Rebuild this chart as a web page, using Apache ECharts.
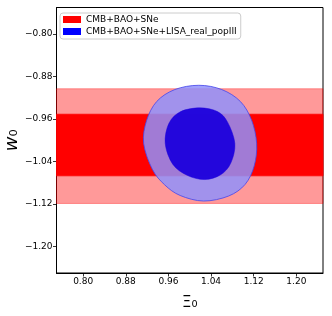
<!DOCTYPE html>
<html>
<head>
<meta charset="utf-8">
<script src="https://cdn.jsdelivr.net/npm/echarts@6/dist/echarts.min.js"></script>
<style>
html,body{margin:0;padding:0;background:#fff;}
#chart{width:332px;height:316px;}
</style>
</head>
<body>
<div id="chart"></div>
<script>
// ---- data ----
var xTicks = [0.80, 0.88, 0.96, 1.04, 1.12, 1.20];
var yTicks = [-0.80, -0.88, -0.96, -1.04, -1.12, -1.20];
var xRange = [0.75, 1.25];
var yRange = [-1.25, -0.75];

// CMB+BAO+SNe constraint on w0 (bands spanning all Xi0): [low, high]
var bandOuter = [-1.119, -0.903];   // 95%
var bandInner = [-1.067, -0.951];   // 68%

// CMB+BAO+SNe+LISA_real_popIII contours [Xi0, w0]
var lisaOuter = [
  [1.017, -0.8965], [1.060, -0.9045], [1.095, -0.927], [1.116, -0.962],
  [1.1255, -1.006], [1.121, -1.048], [1.104, -1.083], [1.073, -1.105],
  [1.026, -1.1145], [0.982, -1.104], [0.953, -1.084], [0.930, -1.055],
  [0.9135, -1.006], [0.919, -0.963], [0.938, -0.927], [0.972, -0.9045]
];
var lisaInner = [
  [1.019, -0.939], [1.052, -0.946], [1.071, -0.966], [1.0846, -1.006],
  [1.077, -1.043], [1.058, -1.065], [1.028, -1.074], [0.995, -1.066],
  [0.968, -1.045], [0.954, -1.006], [0.961, -0.968], [0.983, -0.946]
];
var seriesNames = ['CMB+BAO+SNe', 'CMB+BAO+SNe+LISA_real_popIII'];

// ---- chart ----
var FONT = 'DejaVu Sans';
function fmt(v){ return v.toFixed(2).replace('-', '\u2212'); }

// closed smooth outline through screen points (Catmull-Rom as cubic Bezier)
function smoothClosedPath(p){
  var n = p.length, d = 'M' + p[0][0] + ' ' + p[0][1];
  for (var i = 0; i < n; i++){
    var p0 = p[(i - 1 + n) % n], p1 = p[i], p2 = p[(i + 1) % n], p3 = p[(i + 2) % n];
    var c1x = p1[0] + (p2[0] - p0[0]) / 6, c1y = p1[1] + (p2[1] - p0[1]) / 6;
    var c2x = p2[0] - (p3[0] - p1[0]) / 6, c2y = p2[1] - (p3[1] - p1[1]) / 6;
    d += 'C' + c1x + ' ' + c1y + ' ' + c2x + ' ' + c2y + ' ' + p2[0] + ' ' + p2[1];
  }
  return d + 'Z';
}

var chart = echarts.init(document.getElementById('chart'), null, {renderer:'canvas'});

var bandStyles = [
  {fill:'rgba(255,0,0,0.4)', stroke:'rgba(255,0,0,0.45)'},
  {fill:'rgb(255,0,0)', stroke:'rgb(255,0,0)'}
];
var contourStyles = [
  {fill:'rgba(145,145,250,0.85)', stroke:'rgba(70,70,235,0.9)', lw:0.9},
  {fill:'rgba(28,0,220,0.95)', stroke:'rgba(28,0,220,0.95)', lw:0.5}
];
var contours = [lisaOuter, lisaInner];

var option = {
  animation:false,
  backgroundColor:'#fff',
  grid:{left:56.5, right:9, top:7.5, bottom:43, containLabel:false, outerBoundsMode:'none',
        show:true, borderColor:'#000', borderWidth:1, backgroundColor:'transparent'},
  legend:{
    left:60, top:13, orient:'vertical',
    itemWidth:18, itemHeight:7, itemGap:3,
    padding:[2,4,3,3],
    borderColor:'#cccccc', borderWidth:1, borderRadius:3,
    backgroundColor:'rgba(255,255,255,0.85)',
    textStyle:{fontFamily:FONT, fontSize:9, color:'#000'},
    data:[
      {name:seriesNames[0], icon:'rect', itemStyle:{color:'#ff0000'}},
      {name:seriesNames[1], icon:'rect', itemStyle:{color:'#0000ff'}}
    ]
  },
  xAxis:{
    type:'value', min:xRange[0], max:xRange[1],
    name:'\u039e\u2080', nameLocation:'middle', nameGap:23, nameMoveOverlap:false,
    nameTextStyle:{fontFamily:FONT, fontSize:15, color:'#000'},
    axisLine:{show:true, onZero:false, lineStyle:{color:'#000', width:1}},
    axisTick:{show:true, length:3.5, lineStyle:{color:'#000', width:0.8}, customValues:xTicks},
    axisLabel:{show:true, margin:4, fontFamily:FONT, fontSize:9, color:'#000', customValues:xTicks, formatter:fmt},
    splitLine:{show:false}
  },
  yAxis:{
    type:'value', min:yRange[0], max:yRange[1],
    name:'{w|w}{s|\u2080}', nameLocation:'middle', nameGap:35, nameRotate:90, nameMoveOverlap:false,
    nameTextStyle:{fontFamily:FONT, fontSize:16, color:'#000',
      rich:{w:{fontFamily:FONT, fontSize:18, fontStyle:'italic', color:'#000'}, s:{fontFamily:FONT, fontSize:18, color:'#000'}}},
    axisLine:{show:true, onZero:false, lineStyle:{color:'#000', width:1}},
    axisTick:{show:true, length:3.5, lineStyle:{color:'#000', width:0.8}, customValues:yTicks},
    axisLabel:{show:true, margin:4, fontFamily:FONT, fontSize:9, color:'#000', customValues:yTicks, formatter:fmt},
    splitLine:{show:false}
  },
  series:[
    {
      name:seriesNames[0], type:'custom', itemStyle:{color:'#ff0000'}, clip:true,
      data:[bandOuter, bandInner],
      encode:{y:[0,1]},
      renderItem:function(params, api){
        var lo = api.value(0), hi = api.value(1);
        var cs = params.coordSys;
        var pHi = api.coord([xRange[0], hi]);
        var pLo = api.coord([xRange[0], lo]);
        var st = bandStyles[params.dataIndex];
        return {
          type:'rect',
          shape:{x:cs.x, y:pHi[1], width:cs.width, height:pLo[1]-pHi[1]},
          style:{fill:st.fill, stroke:st.stroke, lineWidth:0.8}
        };
      }
    },
    {
      name:seriesNames[1], type:'custom', itemStyle:{color:'#0000ff'}, clip:true,
      data:[[1.02, -1.006], [1.02, -1.006]],
      encode:{x:0, y:1},
      renderItem:function(params, api){
        var pts = contours[params.dataIndex].map(function(p){ return api.coord(p); });
        var st = contourStyles[params.dataIndex];
        return {
          type:'path',
          shape:{pathData:smoothClosedPath(pts)},
          style:{fill:st.fill, stroke:st.stroke, lineWidth:st.lw}
        };
      }
    }
  ]
};
chart.setOption(option);
</script>
</body>
</html>
